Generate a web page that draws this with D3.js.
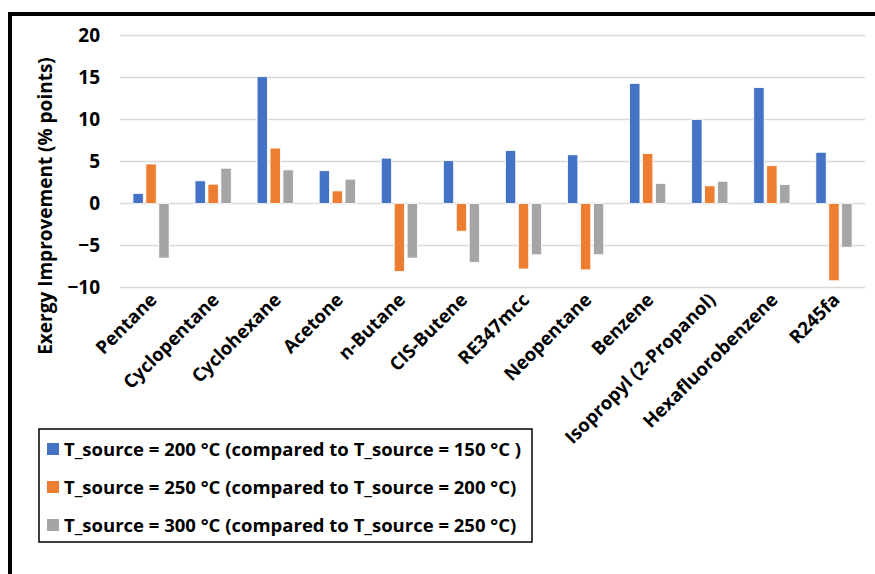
<!DOCTYPE html>
<html><head><meta charset="utf-8">
<script src="https://cdn.jsdelivr.net/npm/d3@7/dist/d3.min.js"></script>
<style>body{margin:0;background:#fff}svg{display:block;font-family:"Open Sans",sans-serif}</style>
</head><body><svg id="c" width="875" height="574"></svg>
<script>
const categories = ["Pentane","Cyclopentane","Cyclohexane","Acetone","n-Butane","CIS-Butene","RE347mcc","Neopentane","Benzene","Isopropyl (2-Propanol)","Hexafluorobenzene","R245fa"];
const s200 = [1.2, 2.7, 15.1, 3.9, 5.4, 5.1, 6.3, 5.8, 14.3, 10.0, 13.8, 6.1];
const s250 = [4.7, 2.3, 6.6, 1.5, -8.1, -3.3, -7.8, -7.9, 5.95, 2.1, 4.5, -9.2];
const s300 = [-6.5, 4.2, 4.0, 2.9, -6.5, -7.0, -6.1, -6.1, 2.4, 2.65, 2.25, -5.2];
const seriesNames = ["T_source = 200 °C (compared to T_source = 150 °C )","T_source = 250 °C (compared to T_source = 200 °C)","T_source = 300 °C (compared to T_source = 250 °C)"];
const yTicks = [-10,-5,0,5,10,15,20];
const colors = ["#4472C4","#ED7D31","#A5A5A5"];
const series = [s200, s250, s300];

const svg = d3.select("#c");
svg.append("line").attr("x1",10).attr("x2",875).attr("y1",14).attr("y2",14).attr("stroke","#000").attr("stroke-width",4);
svg.append("line").attr("x1",10).attr("x2",10).attr("y1",12).attr("y2",574).attr("stroke","#000").attr("stroke-width",4);

const x0 = d3.scaleBand().domain(categories).range([120,865]);
const x1 = d3.scaleBand().domain([0,1,2]).range([0,x0.bandwidth()]).paddingInner(0.2).paddingOuter(1.0);
const y = d3.scaleLinear().domain([-10,20]).range([287.5,35.5]);

const g = svg.append("g");
g.selectAll("line.grid").data(yTicks).join("line").attr("class","grid")
 .attr("x1",120).attr("x2",865).attr("y1",d=>y(d)).attr("y2",d=>y(d))
 .attr("stroke","#d9d9d9").attr("stroke-width",1.5);

const yAxis = d3.axisLeft(y).tickValues(yTicks).tickSize(0).tickPadding(0).tickFormat(d=> d<0 ? "\u2212"+Math.abs(d) : d);
const ya = svg.append("g").attr("transform","translate(100,0)").call(yAxis);
ya.select(".domain").remove();
ya.selectAll("text").attr("font-size",19).attr("font-weight","bold").attr("fill","#000").attr("font-family","'Open Sans',sans-serif");

series.forEach((s,i)=>{
  g.selectAll("rect.s"+i).data(s).join("rect").attr("class","s"+i)
   .attr("x",(d,j)=>x0(categories[j])+x1(i))
   .attr("width",x1.bandwidth())
   .attr("y",d=>y(Math.max(0,d)))
   .attr("height",d=>Math.abs(y(d)-y(0)))
   .attr("fill",colors[i]).attr("stroke","#fff").attr("stroke-width",0.8);
});

svg.selectAll("text.cat").data(categories).join("text").attr("class","cat")
 .attr("transform",d=>`translate(${x0(d)+x0.bandwidth()/2+7},${301}) rotate(-45)`)
 .attr("text-anchor","end").attr("font-size",18.5).attr("font-weight","bold").attr("fill","#000")
 .text(d=>d);

svg.append("text").attr("transform","translate(52,206) rotate(-90)").attr("text-anchor","middle")
 .attr("font-size",19).attr("font-weight","bold").text("Exergy Improvement (% points)");

const lg = svg.append("g");
lg.append("rect").attr("x",39).attr("y",429).attr("width",493).attr("height",113).attr("fill","none").attr("stroke","#000").attr("stroke-width",1.5);
const ly = d3.scalePoint().domain([0,1,2]).range([449,525]);
seriesNames.forEach((n,i)=>{
  lg.append("rect").attr("x",47).attr("y",ly(i)-6).attr("width",12).attr("height",12).attr("fill",colors[i]);
  lg.append("text").attr("x",64).attr("y",ly(i)+7).attr("font-size",18.5).attr("font-weight","bold").text(n);
});
</script></body></html>
